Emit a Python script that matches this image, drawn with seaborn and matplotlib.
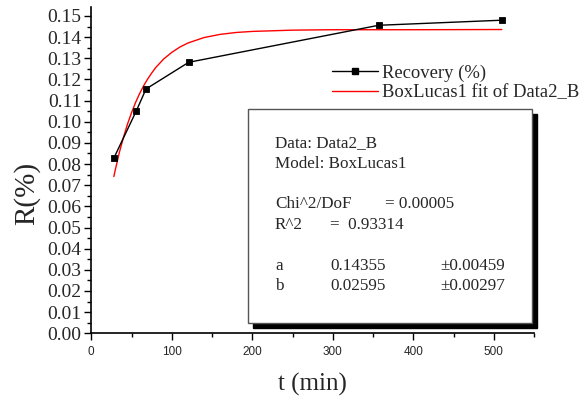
import matplotlib
matplotlib.use("Agg")
import matplotlib.pyplot as plt
from matplotlib.patches import Rectangle
from matplotlib.lines import Line2D
from matplotlib.ticker import MultipleLocator
import pandas as pd
import seaborn as sns

# ---- data ----
t_min = [28, 56, 68, 121, 357, 510]
recovery = [0.0828, 0.1052, 0.1155, 0.1281, 0.1456, 0.1480]

fit_t = [28, 30, 35, 40, 45, 50, 55, 60, 65, 70, 75, 80, 90, 100, 110, 120,
         140, 160, 180, 200, 250, 300, 400, 510]
fit_r = [0.0741, 0.0776, 0.0857, 0.0927, 0.0989, 0.1043, 0.1091, 0.1133,
         0.1170, 0.1202, 0.1230, 0.1256, 0.1297, 0.1328, 0.1353, 0.1372,
         0.1398, 0.1413, 0.1422, 0.1427, 0.1433, 0.1435, 0.1435, 0.1436]

x_ticks = [0, 100, 200, 300, 400, 500]
y_ticks = [round(i * 0.01, 2) for i in range(16)]

legend_labels = ["Recovery (%)", "BoxLucas1 fit of Data2_B"]
box_lines = [
    ("Data: Data2_B", None, None),
    ("Model: BoxLucas1", None, None),
    ("", None, None),
    ("Chi^2/DoF", "= 0.00005", None),
    ("R^2", "=  0.93314", None),
    ("", None, None),
    ("a", "0.14355", "\u00b10.00459"),
    ("b", "0.02595", "\u00b10.00297"),
]

sns.set_style("ticks")
plt.rcParams["font.family"] = ["Liberation Serif", "DejaVu Serif"]

W, H = 580, 396
fig = plt.figure(figsize=(W / 100, H / 100), dpi=100)
ax = fig.add_axes([91.3 / W, 1 - 333.3 / H, (534 - 91.3) / W, (333.3 - 7.3) / H])

df = pd.DataFrame({"t": t_min, "R": recovery})
fit_df = pd.DataFrame({"t": fit_t, "R": fit_r})

sns.lineplot(data=df, x="t", y="R", ax=ax, color="black", linewidth=1.0,
             marker="s", markersize=4.8, markeredgewidth=0.6,
             markeredgecolor="black", zorder=3)
sns.lineplot(data=fit_df, x="t", y="R", ax=ax, color="red", linewidth=1.0, zorder=2)

ax.set_xlim(0, 550)
ax.set_ylim(0, 0.1541)
ax.set_xticks(x_ticks)
ax.xaxis.set_minor_locator(MultipleLocator(50))
ax.set_yticks(y_ticks)
ax.set_yticklabels([f"{v:.2f}" for v in y_ticks])
ax.yaxis.set_minor_locator(MultipleLocator(0.005))

ax.tick_params(axis="y", which="major", direction="out", length=5, width=1,
               labelsize=14, pad=2, color="black")
ax.tick_params(axis="y", which="minor", direction="out", length=3, width=1, color="black")
ax.tick_params(axis="x", which="major", direction="out", length=5, width=1,
               labelsize=8.5, pad=4, color="black")
ax.tick_params(axis="x", which="minor", direction="out", length=3, width=1, color="black")
for lab in ax.get_xticklabels():
    lab.set_fontfamily(["Liberation Sans", "DejaVu Sans"])

for s in ["top", "right"]:
    ax.spines[s].set_visible(False)
for s in ["left", "bottom"]:
    ax.spines[s].set_linewidth(1.2)
    ax.spines[s].set_color("black")

ax.set_xlabel("t (min)", fontsize=18, labelpad=11)
ax.set_ylabel("R(%)", fontsize=21)
ax.yaxis.set_label_coords((27 - 91.3) / (534 - 91.3), (333.3 - 193) / (333.3 - 7.3))
ax.yaxis.label.set_va("center")

# legend
handles = [
    Line2D([], [], color="black", linewidth=1.0, marker="s", markersize=4),
    Line2D([], [], color="red", linewidth=1.0),
]
fig.legend(handles, legend_labels, loc="upper left",
           bbox_to_anchor=(325 / W, 1 - 57 / H), frameon=False,
           fontsize=13.4, handlelength=2.45, handletextpad=0.2,
           labelspacing=0.12, borderaxespad=0)

# fit report box with shadow
bx0, by0, bx1, by1 = 248, 109, 532, 323
off = 5
fig.patches.append(Rectangle(((bx0 + off) / W, 1 - (by1 + off) / H),
                             (bx1 - bx0) / W, (by1 - by0) / H,
                             transform=fig.transFigure, facecolor="black",
                             edgecolor="black", zorder=5))
fig.patches.append(Rectangle((bx0 / W, 1 - by1 / H),
                             (bx1 - bx0) / W, (by1 - by0) / H,
                             transform=fig.transFigure, facecolor="white",
                             edgecolor="#555555", linewidth=1.0, zorder=6))

col_x = [275, 330, 440]
y0 = 143
dy = 20.5
fs = 12.3
for i, (c1, c2, c3) in enumerate(box_lines):
    yy = 1 - (y0 + i * dy) / H
    if c1 == "Chi^2/DoF":
        fig.text(275 / W, yy, c1, fontsize=fs, va="center", ha="left", zorder=7)
        fig.text(385 / W, yy, c2, fontsize=fs, va="center", ha="left", zorder=7)
        continue
    for txt, xx in zip((c1, c2, c3), col_x):
        if txt:
            fig.text(xx / W, yy, txt, fontsize=fs, va="center", ha="left", zorder=7)

fig.savefig("out.png", dpi=100)
